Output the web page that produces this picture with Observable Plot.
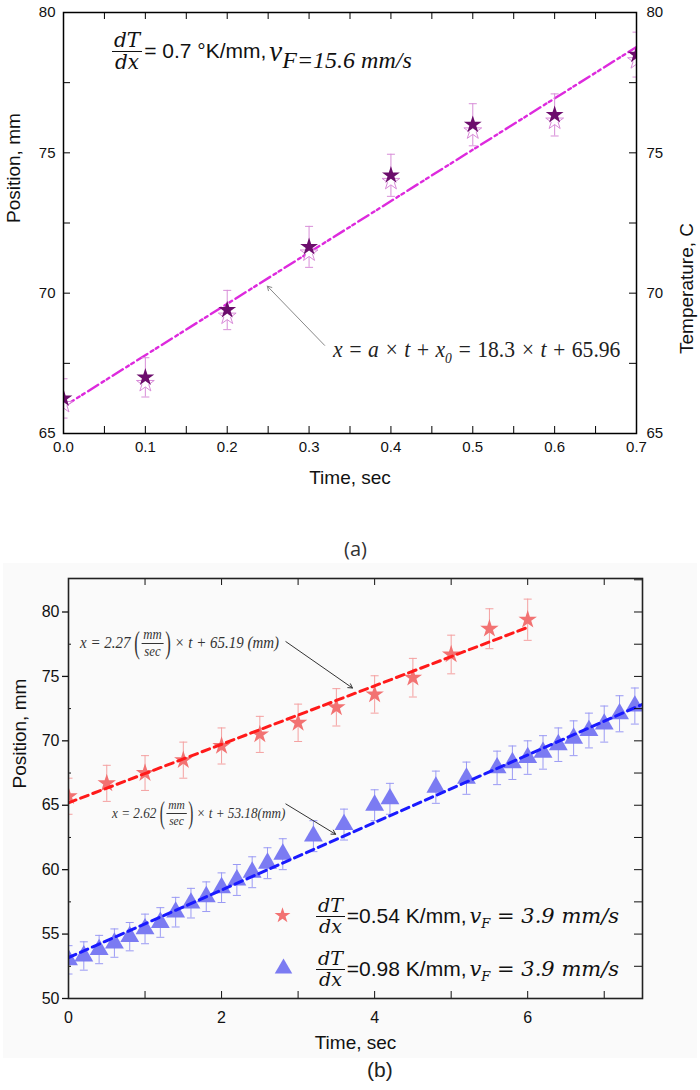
<!DOCTYPE html>
<html>
<head>
<meta charset="utf-8">
<script src="https://cdn.jsdelivr.net/npm/d3@7"></script>
<script src="https://cdn.jsdelivr.net/npm/@observablehq/plot@0.6"></script>
<style>
  body { margin: 0; background: #fff; }
  #wrap { position: relative; width: 700px; height: 1090px; overflow: hidden; font-family: "Liberation Sans", Arial, sans-serif; color: #111; }
  .abs { position: absolute; white-space: nowrap; }
  .row { display: flex; align-items: center; }
  .m { font-family: "Liberation Serif", serif; font-style: italic; }
  .dv { font-family: "DejaVu Serif", serif; font-style: italic; }
  .frac { display: inline-flex; flex-direction: column; align-items: center; line-height: 1.05; margin: 0 2px; }
  .frac > span:first-child { border-bottom: 1.2px solid currentColor; padding: 0 2px; }
  .par { font-family: "Liberation Serif", serif; font-style: normal; transform: scaleY(1.7); display: inline-block; }
  .sx { transform-origin: left center; }
  #bgB { position: absolute; left: 3px; top: 563px; width: 694px; height: 495px; background: #fafafa; }
</style>
</head>
<body>
<div id="wrap">
  <div id="bgB"></div>
  <div id="pa" class="abs" style="left:0;top:0"></div>
  <div id="pb" class="abs" style="left:0;top:563px"></div>

  <!-- panel (a) header formula -->
  <div class="abs row" style="left:110px;top:28px;height:46px;">
    <span class="frac dv" style="font-size:20px"><span>dT</span><span>dx</span></span>
    <span style="font-size:21px;">= 0.7 °K/mm,</span>
    <span class="m" style="font-size:29px;margin-left:3px;">v<span style="font-size:24px;position:relative;top:7px;">F=15.6 mm/s</span></span>
  </div>
  <!-- panel (a) fit equation -->
  <div class="abs m sx" style="left:333px;top:336px;font-size:24px;color:#222;transform:scaleX(0.9);">
    x = a × t + x<sub style="font-size:15px">0</sub> = <span style="font-style:normal">18.3</span> × t + <span style="font-style:normal">65.96</span>
  </div>
  <div class="abs" style="left:344px;top:535px;font-family:'Open Sans',sans-serif;font-size:20px;color:#333;">(a)</div>

  <!-- panel (b) fit equations -->
  <div class="abs row m sx" style="left:80px;top:622px;height:42px;font-size:17px;color:#333;transform:scaleX(0.88);">
    x = 2.27&nbsp;<span class="par" style="font-size:19px">(</span><span class="frac" style="font-size:14.5px"><span>mm</span><span>sec</span></span><span class="par" style="font-size:19px">)</span>&nbsp;× t + 65.19 (mm)
  </div>
  <div class="abs row m sx" style="left:112px;top:792px;height:42px;font-size:15.5px;color:#333;transform:scaleX(0.85);">
    x = 2.62&nbsp;<span class="par" style="font-size:18px">(</span><span class="frac" style="font-size:13.5px"><span>mm</span><span>sec</span></span><span class="par" style="font-size:18px">)</span>&nbsp;× t + 53.18(mm)
  </div>

  <!-- panel (b) legend text -->
  <div class="abs row" style="left:314px;top:894px;height:44px;">
    <span class="frac dv" style="font-size:19px"><span>dT</span><span>dx</span></span>
    <span style="font-size:21px;">=0.54 K/mm,</span>
    <span class="dv" style="font-size:21px;margin-left:3px;">v<span style="font-size:13px;position:relative;top:5px;">F</span> = 3.9 mm/s</span>
  </div>
  <div class="abs row" style="left:314px;top:947px;height:44px;">
    <span class="frac dv" style="font-size:19px"><span>dT</span><span>dx</span></span>
    <span style="font-size:21px;">=0.98 K/mm,</span>
    <span class="dv" style="font-size:21px;margin-left:3px;">v<span style="font-size:13px;position:relative;top:5px;">F</span> = 3.9 mm/s</span>
  </div>
  <div class="abs" style="left:367px;top:1058px;font-size:21px;color:#222;">(b)</div>
</div>

<script>
// ---------- Panel (a) data ----------
const timeA = [0, 0.1, 0.2, 0.3, 0.4, 0.5, 0.6, 0.7];
const posA  = [66.25, 67.0, 69.4, 71.65, 74.2, 76.0, 76.35, 78.5];
const errA  = [0.7, 0.7, 0.7, 0.73, 0.75, 0.75, 0.75, 0.8];
const slopeA = 18.3, interceptA = 65.96;
const fitRangeA = [0, 0.7];
const xTicksA = [0, 0.1, 0.2, 0.3, 0.4, 0.5, 0.6, 0.7];
const yTicksA = [65, 70, 75, 80];
const arrowA = [[0.319, 68.14, 0.249, 70.25]];

// ---------- Panel (b) data ----------
const timeRed = [0, 0.5, 1, 1.5, 2, 2.5, 3, 3.5, 4, 4.5, 5, 5.5, 6];
const posRed  = [65.7, 66.7, 67.5, 68.5, 69.6, 70.5, 71.4, 72.6, 73.6, 74.9, 76.7, 78.7, 79.4];
const errRed  = [1.4, 1.4, 1.35, 1.4, 1.4, 1.4, 1.45, 1.45, 1.45, 1.5, 1.5, 1.55, 1.6];
const timeBlue = [0, 0.2, 0.4, 0.6, 0.8, 1.0, 1.2, 1.4, 1.6, 1.8, 2.0, 2.2, 2.4, 2.6, 2.8, 3.2, 3.6, 4.0, 4.2, 4.8, 5.2, 5.6, 5.8, 6.0, 6.2, 6.4, 6.6, 6.8, 7.0, 7.2, 7.4];
const posBlue  = [53.0, 53.3, 53.8, 54.3, 54.8, 55.4, 55.9, 56.7, 57.4, 57.9, 58.6, 59.2, 59.8, 60.5, 61.2, 62.6, 63.5, 65.0, 65.5, 66.4, 67.1, 67.9, 68.3, 68.7, 69.1, 69.7, 70.2, 70.8, 71.3, 72.1, 72.7];
const errBlue  = [1.1, 1.1, 1.1, 1.1, 1.1, 1.15, 1.15, 1.15, 1.15, 1.15, 1.15, 1.2, 1.2, 1.2, 1.2, 1.2, 1.2, 1.2, 1.2, 1.25, 1.25, 1.3, 1.3, 1.3, 1.3, 1.3, 1.35, 1.35, 1.4, 1.4, 1.4];
const slopeRed = 2.27, interceptRed = 65.19, fitRangeRed = [0, 6];
const slopeBlue = 2.62, interceptBlue = 53.18, fitRangeBlue = [0, 7.5];
const xTicksB = [0, 2, 4, 6];
const yTicksB = [50, 55, 60, 65, 70, 75, 80];
const arrowsB = [[2.84, 77.7, 3.71, 74.1], [2.84, 65.1, 3.49, 62.75]];

// ---------- helpers ----------
const capSym = { draw(ctx, size) { const r = Math.sqrt(size / Math.PI); ctx.moveTo(-r, 0); ctx.lineTo(r, 0); } };
const font = '"Liberation Sans", Arial, sans-serif';
function errorBars(data, color, capR) {
  return [
    Plot.ruleX(data, {x: "t", y1: d => d.p - d.e, y2: d => d.p + d.e, stroke: color, strokeWidth: 1, clip: true}),
    Plot.dot(data, {x: "t", y: d => d.p - d.e, symbol: capSym, r: capR, stroke: color, fill: "none", strokeWidth: 1, clip: true}),
    Plot.dot(data, {x: "t", y: d => d.p + d.e, symbol: capSym, r: capR, stroke: color, fill: "none", strokeWidth: 1, clip: true})
  ];
}

// ---------- Panel (a) ----------
{
  const W = 700, H = 500, mL = 63, mR = 64, mT = 12, mB = 67;
  const iw = W - mL - mR, ih = H - mT - mB;
  const dataA = timeA.map((t, i) => ({t, p: posA[i], e: errA[i]}));
  const minorX = d3.range(0, 0.7 + 1e-9, 0.05);
  const minorY = d3.range(65, 80 + 1e-9, 2.5);
  const chart = Plot.plot({
    width: W, height: H, marginLeft: mL, marginRight: mR, marginTop: mT, marginBottom: mB,
    style: {fontFamily: font, fontSize: "15px", background: "transparent", color: "#111", overflow: "visible"},
    x: {domain: [0, 0.7], label: null},
    y: {domain: [65, 80], label: null},
    marks: [
      Plot.line(fitRangeA, {x: d => d, y: d => slopeA * d + interceptA, stroke: "#dd2add", strokeWidth: 2.4, strokeDasharray: "12,4,3,3,3,4", clip: true}),
      ...errorBars(dataA, "#d88ed8", 4),
      Plot.dot(dataA, {x: "t", y: "p", dy: 6, symbol: "star", r: 5.6, fill: "#fff", stroke: "#d98ad9", strokeWidth: 1, clip: true}),
      Plot.dot(dataA, {x: "t", y: "p", symbol: "star", r: 5.6, fill: "#6c0d6c", stroke: "none", clip: true}),
      Plot.arrow(arrowA, {x1: d => d[0], y1: d => d[1], x2: d => d[2], y2: d => d[3], stroke: "#888", strokeWidth: 1, headLength: 7}),
      Plot.tickX(minorX, {x: d => d, insetTop: ih - 7, stroke: "#000"}),
      Plot.tickX(minorX, {x: d => d, insetBottom: ih - 7, stroke: "#000"}),
      Plot.tickY(minorY, {y: d => d, insetRight: iw - 7, stroke: "#000"}),
      Plot.tickY(minorY, {y: d => d, insetLeft: iw - 7, stroke: "#000"}),
      Plot.frame({stroke: "#000", strokeWidth: 1.5}),
      Plot.axisX(xTicksA, {tickSize: 0, tickPadding: 8, tickFormat: d => d.toFixed(1), label: null, fontSize: 15}),
      Plot.axisY(yTicksA, {anchor: "left", tickSize: 0, tickPadding: 8, label: null, fontSize: 15}),
      Plot.axisY(yTicksA, {anchor: "right", tickSize: 0, tickPadding: 10, label: null, fontSize: 15}),
      Plot.text(["Time, sec"], {text: d => d, frameAnchor: "bottom", dy: 50, fontSize: 19}),
      Plot.text(["Position, mm"], {text: d => d, frameAnchor: "left", rotate: -90, dx: -50, fontSize: 19}),
      Plot.text(["Temperature, C"], {text: d => d, frameAnchor: "right", rotate: -90, dx: 50, fontSize: 19})
    ]
  });
  document.getElementById("pa").append(chart);
}

// ---------- Panel (b) ----------
{
  const W = 700, H = 500, mL = 68, mR = 58, mT = 15, mB = 65;
  const iw = W - mL - mR, ih = H - mT - mB;
  const red = timeRed.map((t, i) => ({t, p: posRed[i], e: errRed[i]}));
  const blue = timeBlue.map((t, i) => ({t, p: posBlue[i], e: errBlue[i]}));
  const xTicks = d3.range(0, 8, 1);
  const yMinor = [52.5, 57.5, 62.5, 67.5, 72.5, 77.5];
  const yRight = d3.range(50, 82.5 + 1e-9, 2.5);
  const chart = Plot.plot({
    width: W, height: H, marginLeft: mL, marginRight: mR, marginTop: mT, marginBottom: mB,
    style: {fontFamily: font, fontSize: "16px", background: "transparent", color: "#111", overflow: "visible"},
    x: {domain: [0, 7.5], label: null},
    y: {domain: [50, 82.6], label: null},
    marks: [
      ...errorBars(red, "#f4a0a0", 4),
      ...errorBars(blue, "#9a9af4", 4),
      Plot.dot(red, {x: "t", y: "p", symbol: "star", r: 5.8, fill: "#f27272", stroke: "none", clip: true}),
      Plot.dot(blue, {x: "t", y: "p", symbol: "triangle", r: 7, fill: "#7b7bf2", stroke: "none", clip: true}),
      Plot.line(fitRangeRed, {x: d => d, y: d => slopeRed * d + interceptRed, stroke: "#ff1a1a", strokeWidth: 3, strokeDasharray: "8,5", clip: true}),
      Plot.line(fitRangeBlue, {x: d => d, y: d => slopeBlue * d + interceptBlue, stroke: "#1a1aff", strokeWidth: 3, strokeDasharray: "8,5", clip: true}),
      Plot.arrow(arrowsB, {x1: d => d[0], y1: d => d[1], x2: d => d[2], y2: d => d[3], stroke: "#333", strokeWidth: 1, headLength: 7}),
      Plot.dot(["red"], {frameAnchor: "top-left", dx: 214, dy: 337, symbol: "star", r: 5, fill: "#f27272", stroke: "none"}),
      Plot.dot(["blue"], {frameAnchor: "top-left", dx: 215, dy: 390, symbol: "triangle", r: 6.5, fill: "#7b7bf2", stroke: "none"}),
      Plot.tickX(xTicks, {x: d => d, insetTop: ih - 7, stroke: "#111"}),
      Plot.tickX(xTicks, {x: d => d, insetBottom: ih - 7, stroke: "#111"}),
      Plot.tickY(yMinor, {y: d => d, insetRight: iw - 3, stroke: "#111"}),
      Plot.tickY(yRight, {y: d => d, insetLeft: iw - 8, stroke: "#111"}),
      Plot.frame({stroke: "#222", strokeWidth: 1.6}),
      Plot.axisX(xTicksB, {tickSize: 0, tickPadding: 13, label: null, fontSize: 16}),
      Plot.axisY(yTicksB, {anchor: "left", tickSize: 6, tickPadding: 3, label: null, fontSize: 16, strokeWidth: 1.3}),
      Plot.text(["Time, sec"], {text: d => d, frameAnchor: "bottom", dy: 50, fontSize: 19}),
      Plot.text(["Position, mm"], {text: d => d, frameAnchor: "left", rotate: -90, dx: -49, fontSize: 19})
    ]
  });
  document.getElementById("pb").append(chart);
}
</script>
</body>
</html>
